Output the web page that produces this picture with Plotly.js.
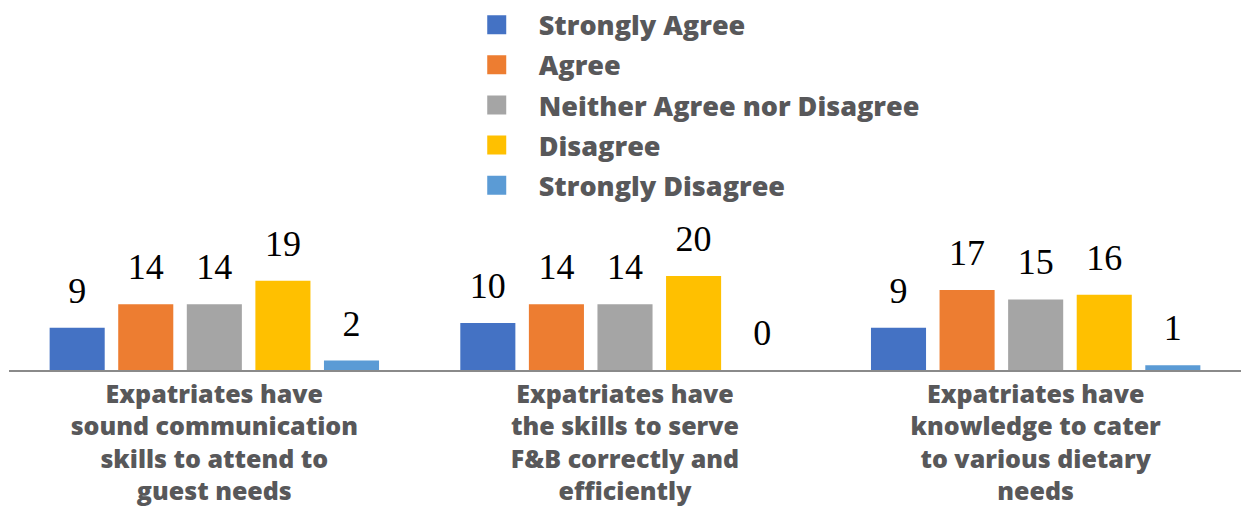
<!DOCTYPE html>
<html>
<head>
<meta charset="utf-8">
<script src="https://cdn.plot.ly/plotly-3.0.1.min.js"></script>
<style>html,body{margin:0;padding:0;background:#fff;}#chart{width:1241px;height:507px;}</style>
</head>
<body>
<div id="chart"></div>
<script>
const categories = ["communication", "serve", "dietary"];
const tickLabels = [
  "Expatriates have<br>sound communication<br>skills to attend to<br>guest needs",
  "Expatriates have<br>the skills to serve<br>F&B correctly and<br>efficiently",
  "Expatriates have<br>knowledge to cater<br>to various dietary<br>needs"
];
const seriesNames = ["Strongly Agree", "Agree", "Neither Agree nor Disagree", "Disagree", "Strongly Disagree"];
const seriesColors = ["#4472C4", "#ED7D31", "#A5A5A5", "#FFC000", "#5B9BD5"];
const stronglyAgree = [9, 10, 9];
const agree = [14, 14, 17];
const neither = [14, 14, 15];
const disagree = [19, 20, 16];
const stronglyDisagree = [2, 0, 1];
const seriesValues = [stronglyAgree, agree, neither, disagree, stronglyDisagree];

const traces = [];
seriesNames.forEach((name, i) => {
  traces.push({
    type: "bar", name: name, x: categories, y: seriesValues[i],
    marker: {color: seriesColors[i]}, offsetgroup: String(i),
    legendgroup: "g" + i, hoverinfo: "none"
  });
});
seriesNames.forEach((name, i) => {
  traces.push({
    type: "scatter", mode: "markers+text", x: categories, y: seriesValues[i],
    text: seriesValues[i].map(String), textposition: "top center",
    textfont: {family: "Liberation Serif, Times New Roman, serif", size: 36, color: "#000"},
    marker: {size: 24, opacity: 0, color: seriesColors[i]},
    offsetgroup: String(i), showlegend: false, hoverinfo: "none", cliponaxis: false
  });
});

const layout = {
  width: 1241, height: 507,
  margin: {l: 9, r: 0, t: 210, b: 137},
  paper_bgcolor: "#fff", plot_bgcolor: "#fff",
  barmode: "group", bargap: 0.165, bargroupgap: 0.197,
  scattermode: "group", scattergap: 0.165,
  xaxis: {
    type: "category", tickvals: categories, ticktext: tickLabels,
    showline: true, linecolor: "#8a8a8a", linewidth: 1.5, ticks: "", showgrid: false,
    tickfont: {family: "Open Sans, sans-serif", size: 25, color: "#58585a", weight: 800},
    ticklabelstandoff: 1, fixedrange: true
  },
  yaxis: {range: [0, 34.04], visible: false, fixedrange: true},
  showlegend: true,
  legend: {
    orientation: "v", x: 0.3618, xanchor: "left", y: 2.308, yanchor: "top",
    font: {family: "Open Sans, sans-serif", size: 27, color: "#58585a", weight: 800},
    tracegroupgap: 2, itemwidth: 74, bgcolor: "rgba(0,0,0,0)"
  }
};

Plotly.newPlot("chart", traces, layout, {staticPlot: true}).then(gd => {
  gd.querySelectorAll(".legend .legendpoints path").forEach(p => {
    p.setAttribute("d", "M9.5,9.5H-9.5V-9.5H9.5Z");
  });
});
</script>
</body>
</html>
